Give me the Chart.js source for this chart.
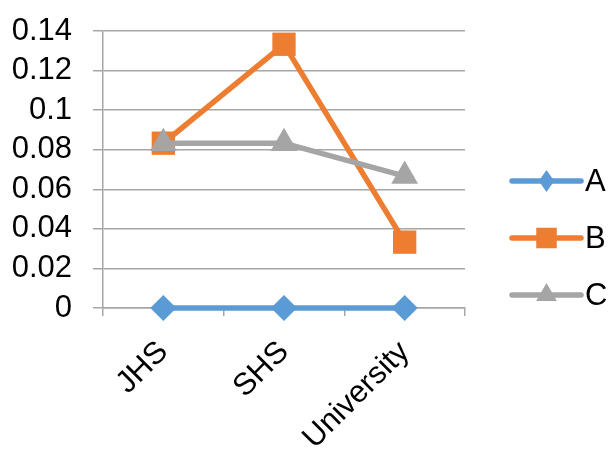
<!DOCTYPE html>
<html>
<head>
<meta charset="utf-8">
<script src="https://cdn.jsdelivr.net/npm/chart.js@4/dist/chart.umd.min.js"></script>
<style>
  html, body { margin: 0; padding: 0; background: #fff; }
  #wrap { width: 610px; height: 453px; }
</style>
</head>
<body>
<div id="wrap"><canvas id="c" width="610" height="453"></canvas></div>
<script>
const categories = ["JHS", "SHS", "University"];
const seriesNames = ["A", "B", "C"];
const seriesA = [0, 0, 0];
const seriesB = [0.0833, 0.1333, 0.0333];
const seriesC = [0.0833, 0.0833, 0.0667];
const yTicks = [0, 0.02, 0.04, 0.06, 0.08, 0.1, 0.12, 0.14];

const colors = ["#5B9BD5", "#ED7D31", "#A5A5A5"];
const FONT = "'Liberation Sans', Arial, sans-serif";
const GRID = "#A6A6A6";

const datasets = [
  { label: seriesNames[0], data: seriesA, borderColor: colors[0], backgroundColor: colors[0],
    pointStyle: "rectRot", pointRadius: 13, order: 2 },
  { label: seriesNames[1], data: seriesB, borderColor: colors[1], backgroundColor: colors[1],
    pointStyle: "rect", pointRadius: 16.5, order: 1 },
  { label: seriesNames[2], data: seriesC, borderColor: colors[2], backgroundColor: colors[2],
    pointStyle: "triangle", pointRadius: 15.5, order: 0 }
].map(d => Object.assign(d, { borderWidth: 5.5, pointBorderWidth: 0, pointHoverRadius: d.pointRadius,
  tension: 0, fill: false, clip: false }));

const legendPlugin = {
  id: "sideLegend",
  afterDraw(chart) {
    const ctx = chart.ctx;
    const x0 = 512, x1 = 581, yStart = 181, gap = 57;
    const radii = [11, 14.5, 12];
    chart.data.datasets.forEach((ds, i) => {
      const y = yStart + i * gap;
      const cx = (x0 + x1) / 2;
      ctx.save();
      ctx.strokeStyle = ds.borderColor;
      ctx.lineWidth = 5.5;
      ctx.lineCap = "round";
      ctx.beginPath();
      ctx.moveTo(x0, y);
      ctx.lineTo(x1, y);
      ctx.stroke();
      ctx.fillStyle = ds.backgroundColor;
      ctx.beginPath();
      const r = radii[i];
      if (ds.pointStyle === "rectRot") {
        ctx.moveTo(cx, y - r); ctx.lineTo(cx + r * 0.7, y);
        ctx.lineTo(cx, y + r); ctx.lineTo(cx - r * 0.7, y);
        ctx.closePath(); ctx.fill();
      } else {
        Chart.helpers.drawPoint(ctx, { pointStyle: ds.pointStyle, radius: r, rotation: 0, borderWidth: 0 }, cx, y);
      }
      ctx.restore();
      ctx.save();
      ctx.fillStyle = "#000";
      ctx.font = "31px " + FONT;
      ctx.textBaseline = "middle";
      ctx.textAlign = "left";
      ctx.fillText(ds.label, x1 + 4, y + 1);
      ctx.restore();
    });
  }
};

new Chart(document.getElementById("c"), {
  type: "line",
  data: { labels: categories, datasets },
  options: {
    responsive: false,
    animation: false,
    devicePixelRatio: 1,
    layout: { padding: { left: 0, right: 145, top: 31, bottom: 0 } },
    plugins: { legend: { display: false }, tooltip: { enabled: false } },
    scales: {
      y: {
        min: 0, max: 0.14,
        afterBuildTicks(scale) { scale.ticks = yTicks.map(v => ({ value: v })); },
        afterFit(scale) { scale.width = 103; scale.paddingTop = 0; scale.paddingBottom = 0; },
        ticks: {
          color: "#000",
          autoSkip: false,
          font: { family: FONT, size: 31 },
          padding: 21,
          callback: v => String(Math.round(v * 100) / 100)
        },
        grid: { color: GRID, lineWidth: 1.5, tickLength: 10 },
        border: { color: GRID, width: 1.5 }
      },
      x: {
        offset: true,
        afterFit(scale) { scale.height = 453 - 308; scale.paddingLeft = 0; scale.paddingRight = 0; },
        ticks: {
          color: "#000",
          autoSkip: false,
          font: { family: FONT, size: 31 },
          minRotation: 45, maxRotation: 45,
          padding: 18
        },
        grid: { offset: true, drawOnChartArea: false, color: GRID, lineWidth: 1.5, tickLength: 8 },
        border: { color: GRID, width: 1.5 }
      }
    }
  },
  plugins: [legendPlugin]
});
</script>
</body>
</html>
